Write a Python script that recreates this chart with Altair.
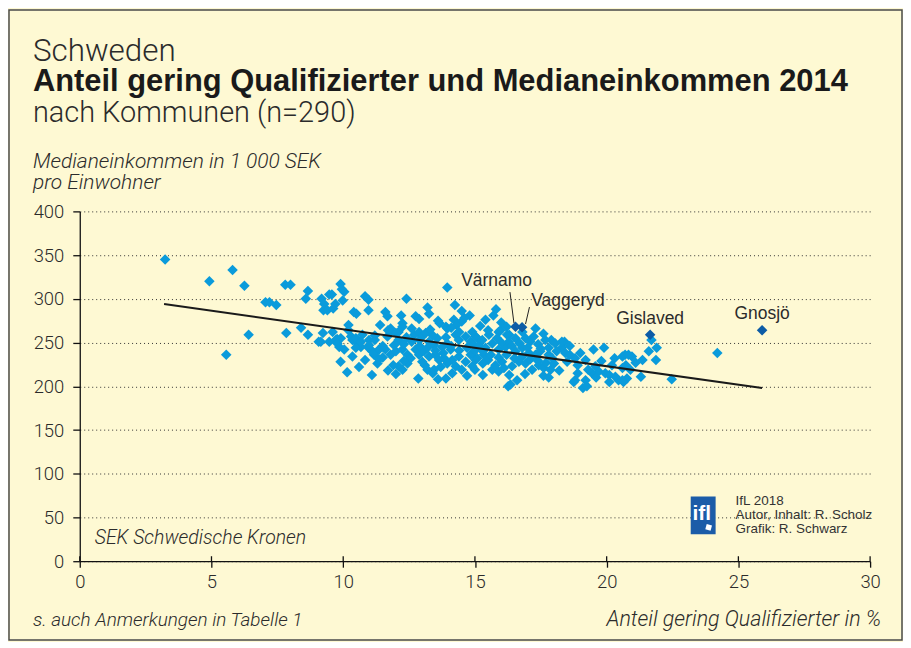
import altair as alt
import pandas as pd

# ---- data ----
qual = [3.24, 4.92, 5.8, 6.25, 5.56, 6.41, 7.05, 7.2, 7.46, 7.8, 8.0, 7.84, 8.4, 8.66, 8.66, 8.58, 9.07, 9.15, 9.23, 9.18,
        9.28, 9.25, 9.47,
        9.9, 9.57, 10.04, 9.98, 9.4, 9.62, 9.7, 10.83, 10.96, 10.4, 10.5, 10.96, 11.6, 11.68, 12.4, 13.95, 14.24,
        12.2, 12.25, 12.75, 12.88, 13.26, 13.6, 13.66, 13.9, 13.95, 14.2, 14.5, 14.8, 11.8, 12.1, 12.25, 9.95,
        10.2, 9.77, 9.91, 10.35, 10.54, 10.67, 10.48, 10.35, 10.15, 11.09, 10.83, 11.17, 11.3, 11.5, 10.98, 11.2,
        10.96, 11.1, 10.73, 11.7,
        12.85, 13.9, 11.36, 12.1, 12.25, 12.44, 13.1, 13.2, 13.4, 13.45, 14.14, 14.27, 14.5, 14.9, 15.0,
        9.47, 9.72, 9.78, 10.3, 10.48, 10.67, 10.98, 11.68, 11.8, 12.0, 12.1, 11.93, 12.7, 12.88, 13.0, 13.13,
        13.26, 13.45, 13.57, 13.76, 13.95, 14.08, 14.27, 14.39, 14.65, 14.84, 14.96, 15.09,
        12.75, 12.88, 13.07, 13.26, 13.5, 13.64, 13.83, 13.95, 14.14, 14.39, 14.65, 14.84, 15.02, 11.6, 11.8, 12.0,
        12.25, 12.44, 12.56, 11.17, 11.36, 9.85, 10.04,
        14.3, 14.6, 15.4, 15.9, 15.97, 16.3, 17.3, 16.26, 17.9, 18.05, 18.4, 18.75, 19.1, 19.2, 19.5, 20.1, 20.45,
        20.77, 19.45, 19.7, 20.2, 20.6, 20.6,
        16.22, 16.92, 17.1, 17.23, 17.67, 18.3, 17.8, 17.93, 18.43, 18.8, 19.2, 19.57, 19.3, 18.8, 19.25, 19.95,
        20.33, 20.6, 15.66, 15.9, 16.3, 16.35, 15.5, 15.78, 16.03, 16.41, 16.67, 16.92, 17.17, 17.42, 17.61, 17.87,
        15.15, 15.4, 15.66, 15.9, 16.16, 16.54, 16.8, 15.02, 15.28, 15.53, 15.84, 16.29, 16.54, 14.9, 15.09, 15.34,
        17.3, 17.48, 17.05, 18.3,
        21.7, 21.6, 21.87, 21.36, 20.7, 20.96, 20.83, 20.73, 20.9, 20.64, 21.3, 22.47, 24.2,
        12.3, 12.6, 12.9, 13.2, 13.5, 13.8, 14.1, 14.4, 14.7, 15.0, 15.3, 15.6, 15.9, 16.2, 16.5, 16.8, 17.1, 17.4,
        17.7, 18.0, 12.4, 12.9, 13.4, 13.9, 14.4, 14.9, 15.5, 16.0, 16.4, 16.7, 17.0, 17.4, 17.8, 18.1, 18.6, 18.9,
        19.0, 18.5, 18.2, 17.6, 16.9, 16.1, 15.3, 14.7, 13.7, 13.0, 12.3, 11.9, 11.5, 11.2, 12.6, 13.3, 14.1, 15.2,
        16.0, 15.7, 16.8, 17.6, 18.6, 19.8, 20.3, 19.9, 21.1, 12.0, 13.6, 15.3, 16.6, 17.8, 11.7, 10.6, 9.9, 11.4,
        10.2, 9.6, 14.5, 13.2, 15.8, 16.2, 17.5, 18.9, 19.6, 20.1, 21.9]
income = [345, 320, 333, 315, 236, 259, 296, 296, 293, 316, 316, 261, 267, 259, 309, 300, 251, 251, 261, 300,
          294, 287, 305,
          317, 305, 308, 298, 287, 289, 294, 303, 299, 285, 283, 287, 285, 280, 300, 313, 293,
          281, 272, 280, 277, 283, 275, 272, 268, 266, 276, 274, 281, 266, 262, 268, 311,
          264, 254, 255, 253, 249, 245, 244, 234, 216, 213, 230, 236, 226, 233, 253, 253,
          244, 240, 259, 264,
          209, 209, 231, 223, 219, 226, 224, 219, 215, 219, 215, 223, 219, 223, 219,
          251, 253, 249, 257, 255, 251, 247, 257, 262, 261, 253, 247, 259, 262, 257, 261,
          251, 247, 255, 245, 249, 242, 259, 253, 257, 251, 247, 255,
          242, 236, 240, 234, 236, 230, 232, 226, 230, 234, 228, 236, 230, 242, 236, 240,
          242, 236, 232, 238, 242, 245, 242,
          270, 278, 276, 262, 264, 259, 266, 200, 253, 249, 251, 205, 198, 207, 242, 213, 207,
          209, 215, 217, 224, 221, 234,
          259, 255, 251, 257, 253, 244, 236, 232, 238, 232, 230, 223, 219, 207, 200, 215,
          211, 207, 219, 217, 213, 202, 230, 224, 228, 223, 228, 226, 219, 224, 221, 219,
          247, 244, 249, 242, 245, 240, 244, 257, 253, 259, 255, 251, 255, 238, 232, 236,
          236, 240, 238, 251,
          253, 240, 230, 230, 236, 234, 236, 224, 219, 205, 211, 208, 238,
          248, 251, 246, 244, 241, 238, 246, 241, 244, 241, 240, 236, 233, 236, 232, 234, 231, 229,
          227, 226, 256, 253, 258, 256, 262, 262, 264, 250, 246, 249, 244, 248, 244, 240, 236, 224,
          238, 228, 218, 212, 214, 221, 226, 212, 222, 228, 229, 224, 246, 258, 266, 265, 267, 269,
          273, 281, 262, 260, 246, 229, 232, 244, 227, 214, 208, 213, 207, 210, 218, 222, 228, 270,
          270, 262, 286, 290, 288, 268, 243, 215, 210, 205, 244]

hl_names = ["Värnamo", "Vaggeryd", "Gislaved", "Gnosjö"]
hl_x = [16.54, 16.79, 21.65, 25.9]
hl_y = [268, 267.5, 259, 264]

trend_x = [3.2, 25.9]
trend_y = [294, 198]

lead_names = ["Värnamo", "Vaggeryd"]
lead_x1 = [16.33, 17.07]
lead_y1 = [307.7, 290.6]
lead_x2 = [16.48, 16.92]
lead_y2 = [272.4, 271.2]

x_ticks = [0, 5, 10, 15, 20, 25, 30]
y_ticks = [0, 50, 100, 150, 200, 250, 300, 350, 400]

# ---- styling ----
W, H = 793, 351
BG = "#FEF9D3"
BLUE = "#0A9BDB"
DARK = "#0D5CA6"
TXT = "#2b2b2b"
LIGHT_FONT = "Roboto"

pts = pd.DataFrame({"q": qual, "inc": income})
hl = pd.DataFrame({"name": hl_names, "q": hl_x, "inc": hl_y})
trend = pd.DataFrame({"q": trend_x, "inc": trend_y})
leads = pd.DataFrame({"name": lead_names, "x1": lead_x1, "y1": lead_y1, "x2": lead_x2, "y2": lead_y2})
xt = pd.DataFrame({"t": x_ticks})

xs = alt.Scale(domain=[0, 30], nice=False)
ys = alt.Scale(domain=[0, 400], nice=False)

one = alt.Data(values=[{"a": 1}])

points = alt.Chart(pts).mark_point(shape="diamond", filled=True, size=112, color=BLUE, opacity=1).encode(
    x=alt.X("q:Q", scale=xs, axis=alt.Axis(values=x_ticks, grid=False, title=None, tickSize=6,
                                            tickColor="#111", domainColor="#111", domainWidth=1.3,
                                            tickWidth=1.3, labelPadding=5, labelFontSize=18.5,
                                            labelFlush=False,
                                            labelFont=LIGHT_FONT, labelFontWeight=300, labelColor=TXT)),
    y=alt.Y("inc:Q", scale=ys, axis=alt.Axis(values=y_ticks, grid=True, gridDash=[1, 3], gridColor="#333",
                                              gridWidth=1, title=None, tickSize=7, tickColor="#111",
                                              domainColor="#111", domainWidth=1.3, tickWidth=1.3,
                                              labelPadding=9, labelFontSize=18.5, labelFont=LIGHT_FONT,
                                              labelFlush=False,
                                              labelFontWeight=300, labelColor=TXT)),
)

up_ticks = alt.Chart(xt).mark_rule(color="#111", strokeWidth=1.3).encode(
    x=alt.X("t:Q", scale=xs), y=alt.value(H - 5), y2=alt.value(H))

trend_line = alt.Chart(trend).mark_line(color="#1a1a1a", strokeWidth=2).encode(
    x=alt.X("q:Q", scale=xs), y=alt.Y("inc:Q", scale=ys))

hl_pts = alt.Chart(hl).mark_point(shape="diamond", filled=True, size=112, color=DARK, opacity=1).encode(
    x=alt.X("q:Q", scale=xs), y=alt.Y("inc:Q", scale=ys))

lead_lines = alt.Chart(leads).mark_rule(color="#222", strokeWidth=1).encode(
    x=alt.X("x1:Q", scale=xs), y=alt.Y("y1:Q", scale=ys), x2="x2:Q", y2="y2:Q")

label_offsets = {"Värnamo": (-19, -41), "Vaggeryd": (46, -21), "Gislaved": (0, -11), "Gnosjö": (0, -11)}
labels = []
for nm, (dx, dy) in label_offsets.items():
    labels.append(
        alt.Chart(hl).transform_filter(alt.datum.name == nm).mark_text(
            dx=dx, dy=dy, fontSize=17.5, font="Liberation Sans", color=TXT, align="center", baseline="alphabetic"
        ).encode(x=alt.X("q:Q", scale=xs), y=alt.Y("inc:Q", scale=ys), text="name:N")
    )


def txt(s, x, y, size, weight=300, style="normal", align="left", font=LIGHT_FONT, color=TXT):
    return alt.Chart(one).mark_text(text=s, fontSize=size, fontWeight=weight, fontStyle=style, align=align,
                                    baseline="alphabetic", font=font, color=color).encode(
        x=alt.value(x), y=alt.value(y))


texts = [
    txt("Schweden", -47, -151, 31.5),
    txt("Anteil gering Qualifizierter und Medianeinkommen 2014", -47, -121, 31, weight="bold",
        font="Liberation Sans", color="#1a1a1a"),
    txt("nach Kommunen (n=290)", -47, -90, 29),
    txt("Medianeinkommen in 1 000 SEK", -47, -44, 21, style="italic"),
    txt("pro Einwohner", -47, -22, 21, style="italic"),
    txt("SEK Schwedische Kronen", 15, 334, 19.5, style="italic"),
    txt("s. auch Anmerkungen in Tabelle 1", -47, 416, 19, style="italic"),
    txt("Anteil gering Qualifizierter in %", 804, 416, 21.5, style="italic", align="right"),
    txt("IfL 2018", 658, 295, 13.5, weight=400, font="Liberation Sans", color="#333"),
    txt("Autor, Inhalt: R. Scholz", 658, 309, 13.5, weight=400, font="Liberation Sans", color="#333"),
    txt("Grafik: R. Schwarz", 658, 323, 13.5, weight=400, font="Liberation Sans", color="#333"),
]

logo_box = alt.Chart(one).mark_rect(color="#1B5CA8").encode(
    x=alt.value(613), x2=alt.value(638), y=alt.value(286), y2=alt.value(324))
logo_txt = alt.Chart(one).mark_text(text="ifl", fontSize=21, fontWeight="bold", font="Liberation Sans",
                                    color="white", align="center", baseline="alphabetic").encode(
    x=alt.value(624), y=alt.value(310))
logo_dot = alt.Chart(one).mark_point(shape="square", filled=True, size=30, color="white", opacity=1,
                                     angle=15).encode(x=alt.value(631), y=alt.value(317))

border = alt.Chart(one).mark_rect(fill=BG, fillOpacity=0, stroke="#4a4a4a", strokeWidth=1.5).encode(
    x=alt.value(-71), x2=alt.value(W + 32), y=alt.value(-202), y2=alt.value(H + 79))

chart = alt.layer(
    points, up_ticks, trend_line, hl_pts, lead_lines, *labels, *texts, logo_box, logo_txt, logo_dot, border
).properties(
    width=W, height=H,
    autosize=alt.AutoSizeParams(type="none"),
    padding={"left": 72, "top": 203, "right": 33, "bottom": 80},
    background=BG,
).configure_view(stroke=None)

chart.save("out.html", embed_options={"renderer": "svg", "actions": False})
